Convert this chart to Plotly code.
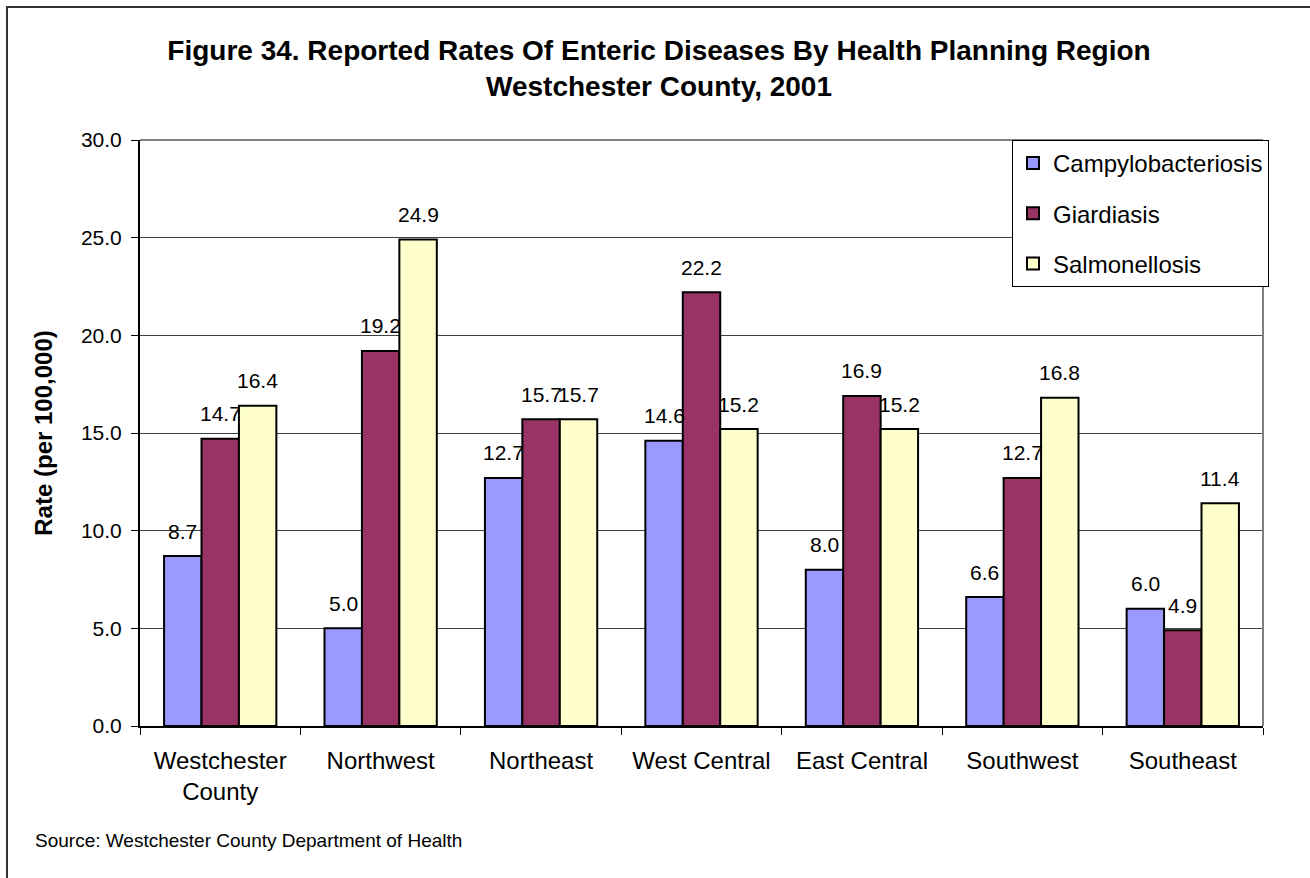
import plotly.graph_objects as go

# Reported rates (per 100,000) by health planning region, 2001
regions = ["Westchester<br>County", "Northwest", "Northeast", "West Central",
           "East Central", "Southwest", "Southeast"]
campylobacteriosis = [8.7, 5.0, 12.7, 14.6, 8.0, 6.6, 6.0]
giardiasis = [14.7, 19.2, 15.7, 22.2, 16.9, 12.7, 4.9]
salmonellosis = [16.4, 24.9, 15.7, 15.2, 15.2, 16.8, 11.4]

series = [
    ("Campylobacteriosis", campylobacteriosis, "#9999FF"),
    ("Giardiasis", giardiasis, "#993366"),
    ("Salmonellosis", salmonellosis, "#FFFFCC"),
]

FONT = "Arial, 'Liberation Sans', sans-serif"
W, H = 1310, 878
ML, MR, MT, MB = 140, 47, 140, 152
BARGAP = 0.3

fig = go.Figure()
for name, vals, color in series:
    fig.add_trace(go.Bar(
        name=name, x=regions, y=vals, legendgroup=name,
        marker=dict(color=color, line=dict(color="black", width=2)),
        hoverinfo="x+y+name",
    ))

# value labels above each bar, shifted to the bar's slot within its group
plot_w = W - ML - MR
plot_h = H - MT - MB
cat_px = plot_w / len(regions)
bar_px = cat_px * (1 - BARGAP) / len(series)
annotations = []
for k, (name, vals, color) in enumerate(series):
    for region, v in zip(regions, vals):
        annotations.append(dict(
            x=region, y=v, xref="x", yref="y", text=f"{v:.1f}",
            showarrow=False, xshift=(k - 1) * bar_px, yshift=25,
            yanchor="middle", font=dict(family=FONT, size=21, color="black"),
        ))

annotations.append(dict(
    xref="paper", yref="paper", x=(33 - ML) / plot_w, y=(H - MB - 840) / plot_h,
    xanchor="left", yanchor="middle", showarrow=False,
    text="Source: Westchester County Department of Health",
    font=dict(family=FONT, size=19, color="black"),
))

shapes = [
    # outer frame of the figure
    dict(type="rect", xref="paper", yref="paper",
         x0=(7 - ML) / plot_w, x1=(W + 5 - ML) / plot_w,
         y0=(H - MB - (H + 5)) / plot_h, y1=(H - MB - 7) / plot_h,
         line=dict(color="#333333", width=2), fillcolor="rgba(0,0,0,0)", layer="below"),
    # plot-area border (top and right)
    dict(type="line", xref="paper", yref="paper", x0=0, x1=1, y0=1, y1=1,
         line=dict(color="#808080", width=2)),
    dict(type="line", xref="paper", yref="paper", x0=1, x1=1, y0=0, y1=1,
         line=dict(color="#808080", width=2)),
]

fig.update_layout(
    width=W, height=H,
    margin=dict(l=ML, r=MR, t=MT, b=MB),
    paper_bgcolor="white", plot_bgcolor="white",
    barmode="group", bargap=BARGAP, bargroupgap=0,
    font=dict(family=FONT, color="black"),
    title=dict(
        text="<b>Figure 34. Reported Rates Of Enteric Diseases By Health Planning Region<br>"
             "Westchester County, 2001</b>",
        x=659 / W, xanchor="center", y=1 - 60 / H, yanchor="middle",
        font=dict(family=FONT, size=28, color="black"),
    ),
    xaxis=dict(
        tickson="boundaries", ticks="outside", ticklen=7, tickwidth=1, tickcolor="black",
        showline=True, linecolor="black", linewidth=2,
        tickfont=dict(family=FONT, size=24, color="black"),
        ticklabelstandoff=12,
    ),
    yaxis=dict(
        range=[0, 30], tickvals=[0, 5, 10, 15, 20, 25, 30], tickformat=".1f",
        ticks="outside", ticklen=7, tickwidth=1, tickcolor="black",
        showline=True, linecolor="black", linewidth=2,
        showgrid=True, gridcolor="#404040", gridwidth=1,
        zeroline=False,
        tickfont=dict(family=FONT, size=21, color="black"),
        ticklabelstandoff=5,
        title=dict(text="<b>Rate (per 100,000)</b>", standoff=22,
                   font=dict(family=FONT, size=24, color="black")),
    ),
    legend=dict(
        x=(1012 - ML) / plot_w, y=1, xanchor="left", yanchor="top",
        bgcolor="white", bordercolor="black", borderwidth=1,
        font=dict(family=FONT, size=24, color="black"),
        tracegroupgap=16, traceorder="grouped",
    ),
    annotations=annotations,
    shapes=shapes,
)

fig.write_html("out.html")
